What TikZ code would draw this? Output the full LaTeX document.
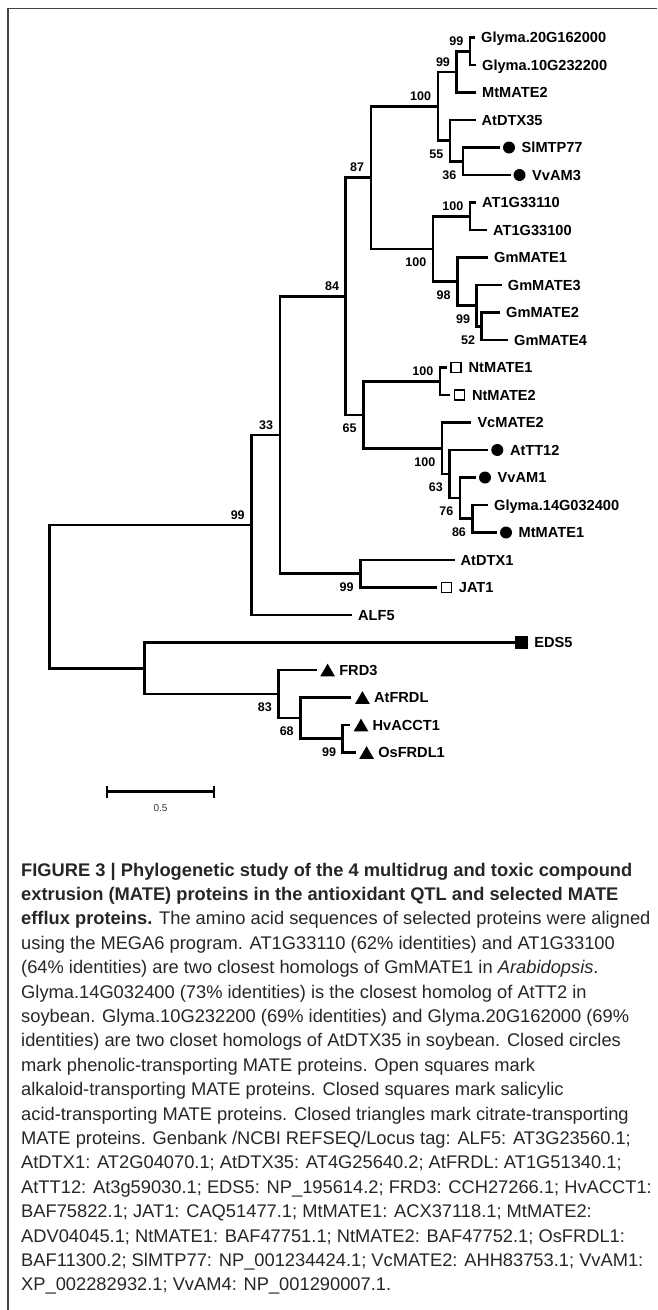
\documentclass[tikz,border=0pt]{standalone}
\usepackage{fontspec}
\setmainfont{Liberation Sans}
\usetikzlibrary{shapes.geometric}
\definecolor{frame-grey}{HTML}{444444}
\definecolor{caption-ink}{HTML}{262626}

\tikzset{
  branch/.style={line width=2.6pt, line join=miter},
  taxon/.style={anchor=base west, inner sep=0pt, xshift=6pt, yshift=-5.2pt,
                font=\bfseries\fontsize{14.6}{16}\selectfont},
  boot/.style={anchor=east, inner sep=0pt, xshift=-6.5pt,
               font=\bfseries\fontsize{12.5}{14}\selectfont},
  bootup/.style={boot, yshift=10pt},
  bootdn/.style={boot, yshift=-13.5pt},
  dotmark/.style={circle, fill=black, inner sep=0pt, minimum size=12pt, xshift=9pt},
  openbox/.style={rectangle, draw=black, line width=1.3pt, inner sep=0pt,
                  minimum size=10pt, xshift=9pt},
  fullbox/.style={rectangle, fill=black, inner sep=0pt, minimum size=12.5pt, xshift=7pt},
  trimark/.style={regular polygon, regular polygon sides=3, fill=black, inner sep=0pt,
                  minimum size=17pt, xshift=11pt, yshift=-2.1pt},
  capline/.style={anchor=base west, inner sep=0pt, text=caption-ink,
                  font=\fontsize{18.3}{22}\selectfont},
}

\begin{document}
\begin{tikzpicture}[x=1pt, y=-1pt]
  \useasboundingbox (0,0) rectangle (657,1310);
  \draw[frame-grey, line width=1.4pt] (8,1310) -- (8,8.5) -- (657,8.5);

  % tips of the tree
  \coordinate (t0) at (475,37.5);
  \coordinate (t1) at (476,65);
  \coordinate (t2) at (476,92.5);
  \coordinate (t3) at (475.5,120);
  \coordinate (t4) at (500,147.5);
  \coordinate (t5) at (510.5,175);
  \coordinate (t6) at (476,202.5);
  \coordinate (t7) at (487,230);
  \coordinate (t8) at (488,257.5);
  \coordinate (t9) at (501.7,285);
  \coordinate (t10) at (500,312.5);
  \coordinate (t11) at (508,340);
  \coordinate (t12) at (447,367.5);
  \coordinate (t13) at (450.3,395);
  \coordinate (t14) at (471.3,422.5);
  \coordinate (t15) at (488.3,450);
  \coordinate (t16) at (476,477.5);
  \coordinate (t17) at (488,505);
  \coordinate (t18) at (497,532.5);
  \coordinate (t19) at (454.5,560);
  \coordinate (t20) at (437.2,587.5);
  \coordinate (t21) at (352,615);
  \coordinate (t22) at (514.6,642.5);
  \coordinate (t23) at (316.6,670);
  \coordinate (t24) at (351.4,697.5);
  \coordinate (t25) at (350,725);
  \coordinate (t26) at (355.6,752.5);

  % inner nodes
  \coordinate (nA) at (470,51.25);
  \coordinate (nB) at (456.6,71.9);
  \coordinate (nE) at (463,161.25);
  \coordinate (nD) at (450,140.6);
  \coordinate (nC) at (437.8,106.25);
  \coordinate (nH) at (470,216.25);
  \coordinate (nK) at (481.7,326.25);
  \coordinate (nJ) at (476.7,305.6);
  \coordinate (nI) at (457.3,281.6);
  \coordinate (nG) at (433,248.9);
  \coordinate (nF) at (370.8,177.6);
  \coordinate (nN) at (440,381.25);
  \coordinate (nR) at (472.6,518.75);
  \coordinate (nQ) at (460,498.1);
  \coordinate (nP) at (449.5,474.1);
  \coordinate (nO) at (442,448.3);
  \coordinate (nM) at (363.3,414.8);
  \coordinate (nL) at (345.7,296.2);
  \coordinate (nT) at (360.3,573.75);
  \coordinate (nS) at (279.8,435);
  \coordinate (nU) at (251.4,525);
  \coordinate (nZ) at (342.7,738.75);
  \coordinate (nY) at (300.4,718.1);
  \coordinate (nX) at (278.6,694);
  \coordinate (nW) at (144.5,668.3);
  \coordinate (nV) at (49.4,596.6);

  % branches
  \draw[branch] (nA) |- (t0) (nA) |- (t1);
  \draw[branch] (nB) |- (nA) (nB) |- (t2);
  \draw[branch] (nE) |- (t4) (nE) |- (t5);
  \draw[branch] (nD) |- (t3) (nD) |- (nE);
  \draw[branch] (nC) |- (nB) (nC) |- (nD);
  \draw[branch] (nH) |- (t6) (nH) |- (t7);
  \draw[branch] (nK) |- (t10) (nK) |- (t11);
  \draw[branch] (nJ) |- (t9) (nJ) |- (nK);
  \draw[branch] (nI) |- (t8) (nI) |- (nJ);
  \draw[branch] (nG) |- (nH) (nG) |- (nI);
  \draw[branch] (nF) |- (nC) (nF) |- (nG);
  \draw[branch] (nN) |- (t12) (nN) |- (t13);
  \draw[branch] (nR) |- (t17) (nR) |- (t18);
  \draw[branch] (nQ) |- (t16) (nQ) |- (nR);
  \draw[branch] (nP) |- (t15) (nP) |- (nQ);
  \draw[branch] (nO) |- (t14) (nO) |- (nP);
  \draw[branch] (nM) |- (nN) (nM) |- (nO);
  \draw[branch] (nL) |- (nF) (nL) |- (nM);
  \draw[branch] (nT) |- (t19) (nT) |- (t20);
  \draw[branch] (nS) |- (nL) (nS) |- (nT);
  \draw[branch] (nU) |- (nS) (nU) |- (t21);
  \draw[branch] (nZ) |- (t25) (nZ) |- (t26);
  \draw[branch] (nY) |- (t24) (nY) |- (nZ);
  \draw[branch] (nX) |- (t23) (nX) |- (nY);
  \draw[branch] (nW) |- (t22) (nW) |- (nX);
  \draw[branch] (nV) |- (nU) (nV) |- (nW);

  % bootstrap values
  \node[bootup] (bA) at (nA) {99};
  \node[bootup] (bB) at (nB) {99};
  \node[bootup] (bC) at (nC) {100};
  \node[bootdn] (bD) at (nD) {55};
  \node[bootdn] (bE) at (nE) {36};
  \node[bootup] (bF) at (nF) {87};
  \node[bootdn] (bG) at (nG) {100};
  \node[bootup] (bH) at (nH) {100};
  \node[bootdn] (bI) at (nI) {98};
  \node[bootdn] (bJ) at (nJ) {99};
  \node[bootdn] (bK) at (nK) {52};
  \node[bootup] (bL) at (nL) {84};
  \node[bootdn] (bM) at (nM) {65};
  \node[bootup] (bN) at (nN) {100};
  \node[bootdn] (bO) at (nO) {100};
  \node[bootdn] (bP) at (nP) {63};
  \node[bootdn] (bQ) at (nQ) {76};
  \node[bootdn] (bR) at (nR) {86};
  \node[bootup] (bS) at (nS) {33};
  \node[bootdn] (bT) at (nT) {99};
  \node[bootup] (bU) at (nU) {99};
  \node[bootdn] (bX) at (nX) {83};
  \node[bootdn] (bY) at (nY) {68};
  \node[bootdn] (bZ) at (nZ) {99};

  % markers
  \node[dotmark] (m4) at (t4) {};
  \node[dotmark] (m5) at (t5) {};
  \node[dotmark] (m15) at (t15) {};
  \node[dotmark] (m16) at (t16) {};
  \node[dotmark] (m18) at (t18) {};
  \node[openbox] (m12) at (t12) {};
  \node[openbox] (m13) at (t13) {};
  \node[openbox] (m20) at (t20) {};
  \node[fullbox] (m22) at (t22) {};
  \node[trimark] (m23) at (t23) {};
  \node[trimark] (m24) at (t24) {};
  \node[trimark] (m25) at (t25) {};
  \node[trimark] (m26) at (t26) {};

  % taxa
  \node[taxon] (l0) at (t0) {Glyma.20G162000};
  \node[taxon] (l1) at (t1) {Glyma.10G232200};
  \node[taxon] (l2) at (t2) {MtMATE2};
  \node[taxon] (l3) at (t3) {AtDTX35};
  \node[taxon, xshift=15.5pt] (l4) at (t4) {SlMTP77};
  \node[taxon, xshift=15.5pt] (l5) at (t5) {VvAM3};
  \node[taxon] (l6) at (t6) {AT1G33110};
  \node[taxon] (l7) at (t7) {AT1G33100};
  \node[taxon] (l8) at (t8) {GmMATE1};
  \node[taxon] (l9) at (t9) {GmMATE3};
  \node[taxon] (l10) at (t10) {GmMATE2};
  \node[taxon] (l11) at (t11) {GmMATE4};
  \node[taxon, xshift=15.5pt] (l12) at (t12) {NtMATE1};
  \node[taxon, xshift=15.5pt] (l13) at (t13) {NtMATE2};
  \node[taxon] (l14) at (t14) {VcMATE2};
  \node[taxon, xshift=15.5pt] (l15) at (t15) {AtTT12};
  \node[taxon, xshift=15.5pt] (l16) at (t16) {VvAM1};
  \node[taxon] (l17) at (t17) {Glyma.14G032400};
  \node[taxon, xshift=15.5pt] (l18) at (t18) {MtMATE1};
  \node[taxon] (l19) at (t19) {AtDTX1};
  \node[taxon, xshift=15.5pt] (l20) at (t20) {JAT1};
  \node[taxon] (l21) at (t21) {ALF5};
  \node[taxon, xshift=13.5pt] (l22) at (t22) {EDS5};
  \node[taxon, xshift=16.5pt] (l23) at (t23) {FRD3};
  \node[taxon, xshift=16.5pt] (l24) at (t24) {AtFRDL};
  \node[taxon, xshift=16.5pt] (l25) at (t25) {HvACCT1};
  \node[taxon, xshift=16.5pt] (l26) at (t26) {OsFRDL1};

  % scale bar
  \coordinate (sbL) at (106.8,791.7);
  \coordinate (sbR) at (213.7,791.7);
  \draw[branch] (sbL) -- (sbR);
  \draw[line width=2.4pt] ([yshift=6pt]sbL) -- ([yshift=-6pt]sbL);
  \draw[line width=2.4pt] ([yshift=6pt]sbR) -- ([yshift=-6pt]sbR);
  \node[font=\fontsize{10}{12}\selectfont, text=black!80] (sbtext) at (160.5,808) {0.5};

  % caption
  \node[capline] (c1) at (21,876) {\bfseries FIGURE 3 | Phylogenetic study of the 4 multidrug and toxic compound};
  \node[capline] (c2) at (21,900.4) {\bfseries extrusion (MATE) proteins in the antioxidant QTL and selected MATE};
  \node[capline] (c3) at (21,924.8) {\textbf{efflux proteins.} The amino acid sequences of selected proteins were aligned};
  \node[capline] (c4) at (21,949.2) {using the MEGA6 program. AT1G33110 (62\% identities) and AT1G33100};
  \node[capline] (c5) at (21,973.6) {(64\% identities) are two closest homologs of GmMATE1 in \textit{Arabidopsis}.};
  \node[capline] (c6) at (21,998) {Glyma.14G032400 (73\% identities) is the closest homolog of AtTT2 in};
  \node[capline] (c7) at (21,1022.4) {soybean. Glyma.10G232200 (69\% identities) and Glyma.20G162000 (69\%};
  \node[capline] (c8) at (21,1046.8) {identities) are two closet homologs of AtDTX35 in soybean. Closed circles};
  \node[capline] (c9) at (21,1071.2) {mark phenolic-transporting MATE proteins. Open squares mark};
  \node[capline] (c10) at (21,1095.6) {alkaloid-transporting MATE proteins. Closed squares mark salicylic};
  \node[capline] (c11) at (21,1120) {acid-transporting MATE proteins. Closed triangles mark citrate-transporting};
  \node[capline] (c12) at (21,1144.4) {MATE proteins. Genbank /NCBI REFSEQ/Locus tag: ALF5: AT3G23560.1;};
  \node[capline] (c13) at (21,1168.8) {AtDTX1: AT2G04070.1; AtDTX35: AT4G25640.2; AtFRDL: AT1G51340.1;};
  \node[capline] (c14) at (21,1193.2) {AtTT12: At3g59030.1; EDS5: NP\_195614.2; FRD3: CCH27266.1; HvACCT1:};
  \node[capline] (c15) at (21,1217.6) {BAF75822.1; JAT1: CAQ51477.1; MtMATE1: ACX37118.1; MtMATE2:};
  \node[capline] (c16) at (21,1242) {ADV04045.1; NtMATE1: BAF47751.1; NtMATE2: BAF47752.1; OsFRDL1:};
  \node[capline] (c17) at (21,1266.4) {BAF11300.2; SlMTP77: NP\_001234424.1; VcMATE2: AHH83753.1; VvAM1:};
  \node[capline] (c18) at (21,1290.8) {XP\_002282932.1; VvAM4: NP\_001290007.1.};
\end{tikzpicture}
\end{document}
